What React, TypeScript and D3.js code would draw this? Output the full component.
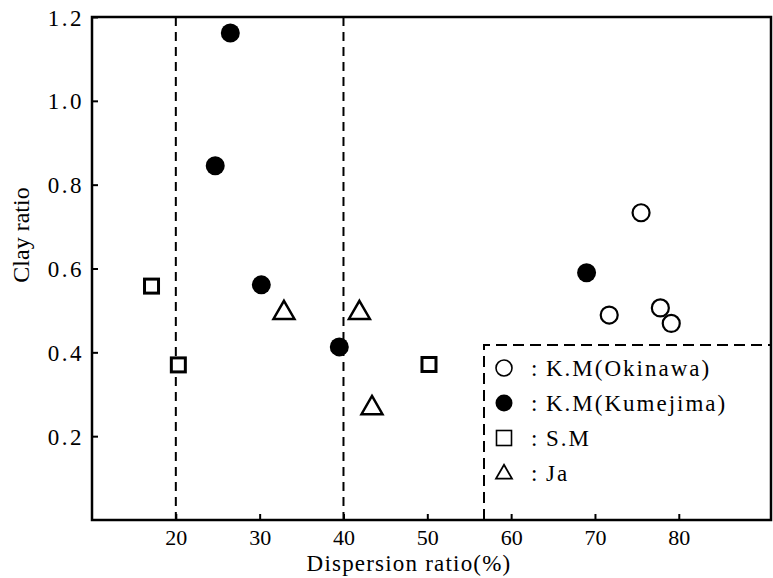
import React, { useEffect, useRef } from 'react';
import * as d3 from 'd3';

// values
const okinawaX = [75.5, 71.7, 77.8, 79.1];
const okinawaY = [0.733, 0.489, 0.506, 0.469];
const kumejimaX = [26.5, 24.7, 30.2, 39.5, 69.0];
const kumejimaY = [1.162, 0.845, 0.561, 0.413, 0.590];
const smX = [17.1, 20.3, 50.2];
const smY = [0.558, 0.370, 0.371];
const jaX = [32.9, 41.9, 43.4];
const jaY = [0.494, 0.494, 0.267];

const xTicks = [20, 30, 40, 50, 60, 70, 80];
const yTicks = [0.2, 0.4, 0.6, 0.8, 1.0, 1.2];
const refLines = [20, 40];
const legendLabels = ['K.M(Okinawa)', 'K.M(Kumejima)', 'S.M', 'Ja'];

const W = 773;
const H = 578;
const FONT = '"Liberation Serif", "DejaVu Serif", serif';

const zip = (xs: number[], ys: number[]) => xs.map((x, i) => [x, ys[i]] as [number, number]);

const App = () => {
    const svgRef = useRef<SVGSVGElement | null>(null);

    useEffect(() => {
        if (!svgRef.current) return;
        const svg = d3.select(svgRef.current);
        svg.selectAll('*').remove();

        const margin = { top: 17, right: 2, bottom: 58, left: 92 };
        const x = d3.scaleLinear().domain([10, 91]).range([margin.left, W - margin.right]);
        const y = d3.scaleLinear().domain([0, 1.2]).range([H - margin.bottom, margin.top]);
        const [x0, x1] = x.range();
        const [y0, y1] = y.range();

        svg.append('rect').attr('width', W).attr('height', H).attr('fill', '#fff');

        // dashed reference lines
        svg.selectAll('.ref')
            .data(refLines)
            .enter().append('line')
            .attr('x1', d => x(d)).attr('x2', d => x(d))
            .attr('y1', y1).attr('y2', y0)
            .attr('stroke', '#000')
            .attr('stroke-width', 2)
            .attr('stroke-dasharray', '9 6');

        // legend box (dashed top and left)
        const lgX = 484;
        const lgY = 345;
        svg.append('path')
            .attr('d', `M${lgX},${y0} L${lgX},${lgY} L${x1},${lgY}`)
            .attr('fill', 'none')
            .attr('stroke', '#000')
            .attr('stroke-width', 2)
            .attr('stroke-dasharray', '11 6');

        // axes
        const xAxis = svg.append('g')
            .attr('transform', `translate(0,${y0})`)
            .call(d3.axisBottom(x).tickValues(xTicks).tickSize(-6).tickPadding(9).tickFormat(d3.format('d')));
        const yAxis = svg.append('g')
            .attr('transform', `translate(${x0},0)`)
            .call(d3.axisLeft(y).tickValues(yTicks).tickSize(-6).tickPadding(8).tickFormat(d3.format('.1f')));
        [xAxis, yAxis].forEach(g => {
            g.select('.domain').remove();
            g.selectAll('line').attr('stroke', '#000').attr('stroke-width', 2);
            g.selectAll('text')
                .attr('fill', '#000')
                .style('font-family', FONT)
                .style('font-size', '23px');
        });
        xAxis.selectAll('text').style('font-size', '22px');
        yAxis.selectAll('text').style('letter-spacing', '2.5px').attr('dy', '0.35em');

        // frame
        svg.append('rect')
            .attr('x', x0).attr('y', y1)
            .attr('width', x1 - x0).attr('height', y0 - y1)
            .attr('fill', 'none')
            .attr('stroke', '#000')
            .attr('stroke-width', 2.5);

        // points
        const tri = d3.symbol().type(d3.symbolTriangle).size(190);

        svg.selectAll('.sm')
            .data(zip(smX, smY))
            .enter().append('rect')
            .attr('x', d => x(d[0]) - 7).attr('y', d => y(d[1]) - 7)
            .attr('width', 14).attr('height', 14)
            .attr('fill', '#fff').attr('stroke', '#000').attr('stroke-width', 3);

        svg.selectAll('.ja')
            .data(zip(jaX, jaY))
            .enter().append('path')
            .attr('d', tri)
            .attr('transform', d => `translate(${x(d[0])},${y(d[1])})`)
            .attr('fill', '#fff').attr('stroke', '#000').attr('stroke-width', 2.5);

        svg.selectAll('.oki')
            .data(zip(okinawaX, okinawaY))
            .enter().append('circle')
            .attr('cx', d => x(d[0])).attr('cy', d => y(d[1]))
            .attr('r', 8.5)
            .attr('fill', 'none').attr('stroke', '#000').attr('stroke-width', 2.2);

        svg.selectAll('.kume')
            .data(zip(kumejimaX, kumejimaY))
            .enter().append('circle')
            .attr('cx', d => x(d[0])).attr('cy', d => y(d[1]))
            .attr('r', 9.5)
            .attr('fill', '#000');

        // legend
        const lg = svg.append('g').style('font-family', FONT).style('font-size', '23px');
        legendLabels.forEach((label, i) => {
            const cy = 368 + i * 35;
            const sx = 504;
            if (i === 0) {
                lg.append('circle').attr('cx', sx).attr('cy', cy).attr('r', 8)
                    .attr('fill', 'none').attr('stroke', '#000').attr('stroke-width', 1.6);
            } else if (i === 1) {
                lg.append('circle').attr('cx', sx).attr('cy', cy).attr('r', 8.5).attr('fill', '#000');
            } else if (i === 2) {
                lg.append('rect').attr('x', sx - 7.5).attr('y', cy - 7.5).attr('width', 15).attr('height', 15)
                    .attr('fill', 'none').attr('stroke', '#000').attr('stroke-width', 1.6);
            } else {
                lg.append('path')
                    .attr('d', d3.symbol().type(d3.symbolTriangle).size(110)())
                    .attr('transform', `translate(${sx},${cy + 1})`)
                    .attr('fill', 'none').attr('stroke', '#000').attr('stroke-width', 1.8);
            }
            lg.append('text').attr('x', 531).attr('y', cy).attr('dy', '0.35em').text(':');
            lg.append('text').attr('x', 546).attr('y', cy).attr('dy', '0.35em')
                .style('letter-spacing', '2px').text(label);
        });

        // axis titles
        svg.append('text')
            .attr('x', 409).attr('y', 571)
            .attr('text-anchor', 'middle')
            .style('font-family', FONT).style('font-size', '23px')
            .style('letter-spacing', '1.2px')
            .text('Dispersion ratio(%)');

        svg.append('text')
            .attr('transform', `translate(29,235) rotate(-90)`)
            .attr('text-anchor', 'middle')
            .style('font-family', FONT).style('font-size', '24px')
            .text('Clay ratio');
    }, []);

    return (
        <svg
            ref={svgRef}
            width={W}
            height={H}
            viewBox={`0 0 ${W} ${H}`}
            style={{ position: 'absolute', left: 0, top: 0, display: 'block' }}
        />
    );
};

export default App;
